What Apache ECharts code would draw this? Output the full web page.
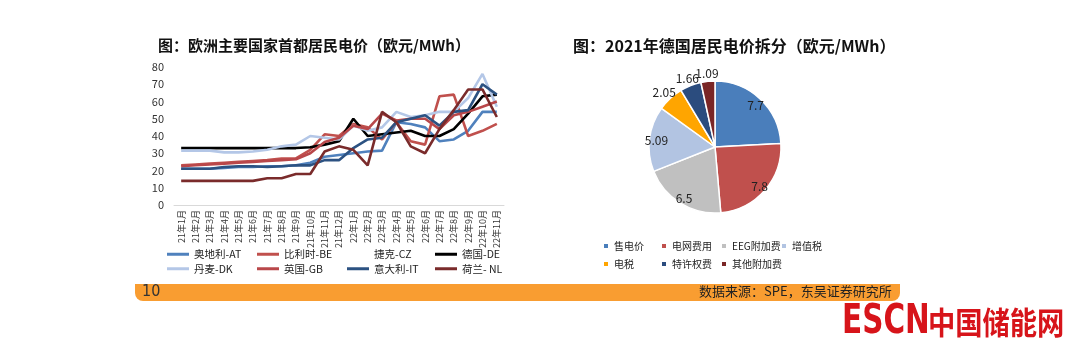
<!DOCTYPE html>
<html><head><meta charset="utf-8">
<script src="https://cdn.jsdelivr.net/npm/echarts@6/dist/echarts.min.js"></script>
<style>html,body{margin:0;padding:0;background:#fff}#c{width:1075px;height:343px}</style>
</head><body><div id="c"></div>
<script>
const categories = ['21年1月','21年2月','21年3月','21年4月','21年5月','21年6月','21年7月','21年8月','21年9月','21年10月','21年11月','21年12月','22年1月','22年2月','22年3月','22年4月','22年5月','22年6月','22年7月','22年8月','22年9月','22年10月','22年11月'];
const yTicks = [0,10,20,30,40,50,60,70,80];
const AT = [21,21,21,21.5,22,22,22.5,22.5,23,24.5,28,29,30,31,31.5,48,47,45,37,38,43,54,54];
const BE = [23,23.5,24,24.5,25,25.5,26,27,27,32,41,40,47,45,38,48,37,35,63,64,40,43,47];
const CZ = [];
const DE = [33,33,33,33,33,33,33,33,33,33.5,35,37,50,40,41,42,43,40,40,44,53,63,64];
const DK = [31.5,31.5,31.5,30.5,30.5,31,32,34,35,40,39,38,46,43,45,54,51,52,54,54,62,76,57];
const GB = [22.5,23,23.5,24,24.5,25,25.5,26,26.5,30,36.5,39,46,44,53,49,50,50,44,52,54,57,60];
const IT = [21,21,21,22,22.5,22.5,22,22.5,23,23,26,26,33,38,39,48,50,52,46,54,55,70,64];
const NL = [14,14,14,14,14,14,15.5,15.5,18,18,31,34,32,23,54,48,34,30,44,55,67,67,51];
const lineNames = ['奥地利-AT','比利时-BE','捷克-CZ','德国-DE','丹麦-DK','英国-GB','意大利-IT','荷兰- NL'];
const pieNames = ['售电价','电网费用','EEG附加费','增值税','电税','特许权费','其他附加费'];
const pieValues = [7.7,7.8,6.5,5.09,2.05,1.66,1.09];

const lineColors = ['#4f81bd','#c0504d','#ffffff','#000000','#b4c7e7','#b9474a','#2c5282','#7a2b2b'];
const pieColors = ['#4a7ebb','#c0504d','#c0c0c0','#b2c4e2','#ffa500','#2b4c7e','#7a2626'];
const CJK = '"Noto Sans CJK SC","Noto Sans",sans-serif';
const NARROW = '"Liberation Sans Narrow","DejaVu Sans Condensed",sans-serif';
const lineData = [AT,BE,CZ,DE,DK,GB,IT,NL];
const smallIdx = [4,5,6];

const chart = echarts.init(document.getElementById('c'), null, {renderer:'canvas'});
const lineSeries = lineNames.map((n,i)=>({
  name:n, type:'line', data:lineData[i], symbol:'none', showSymbol:false,
  lineStyle:{width:2.6, color:lineColors[i]}, itemStyle:{color:lineColors[i]},
  z: i===2?1:2
}));
const legendTxt = {fontSize:10.5, color:'#222', fontFamily:CJK};
function lineLegend(left, names){
  return {orient:'vertical', left:left, top:249, itemGap:4, itemWidth:22, itemHeight:3, icon:'rect',
    textStyle:legendTxt, data:names, selectedMode:false, padding:0};
}
function pieLegend(left, names){
  return {orient:'vertical', left:left, top:241, itemGap:8, itemWidth:6, itemHeight:6, icon:'rect',
    textStyle:Object.assign({}, legendTxt, {fontSize:10}), data:names, selectedMode:false, padding:0, itemTextGap:4};
}
const pieData = pieNames.map((n,i)=>({name:n, value:pieValues[i], itemStyle:{color:pieColors[i]}}));
const labelsBig = pieNames.map((n,i)=>({name:n, value:pieValues[i],
  label:{show: smallIdx.indexOf(i)<0}}));
const labelsSmall = pieNames.map((n,i)=>({name:n, value:pieValues[i],
  label:{show: smallIdx.indexOf(i)>=0}}));
const labelSeries = (r, d) => ({type:'pie', center:[715,148], radius:r, startAngle:90, clockwise:true,
  data:d, itemStyle:{color:'rgba(0,0,0,0)'}, silent:true, legendHoverLink:false,
  avoidLabelOverlap:false, labelLayout:{hideOverlap:false},
  label:{position:'inside', fontSize:12, color:'#222', fontFamily:CJK, formatter:'{c}'},
  labelLine:{show:false}, z:3});
chart.setOption({
  backgroundColor:'#fff',
  animation:false,
  title:[
    {text:'图：欧洲主要国家首都居民电价（欧元/MWh）', left:153, top:33,
     textStyle:{fontSize:15, fontWeight:'bold', color:'#111', fontFamily:CJK, borderColor:'#d5d5d5', borderWidth:1, borderType:'dashed', padding:[2,8,2,2]}},
    {text:'图：2021年德国居民电价拆分（欧元/MWh）', left:568, top:33,
     textStyle:{fontSize:16, fontWeight:'bold', color:'#111', fontFamily:CJK, padding:[2,2,2,2]}}
  ],
  grid:{left:174, right:571, top:67, bottom:138},
  xAxis:{type:'category', data:categories, boundaryGap:true,
    axisLine:{lineStyle:{color:'#d9d9d9', width:1}}, axisTick:{show:false},
    axisLabel:{rotate:90, fontSize:9, color:'#333', fontFamily:CJK, interval:0, margin:5}},
  yAxis:{type:'value', min:yTicks[0], max:yTicks[yTicks.length-1], interval:10,
    splitLine:{show:false}, axisLine:{show:false}, axisTick:{show:false},
    axisLabel:{fontSize:11, color:'#333', fontFamily:CJK, margin:10}},
  legend:[
    lineLegend(167,[lineNames[0],lineNames[4]]),
    lineLegend(257,[lineNames[1],lineNames[5]]),
    lineLegend(347,[lineNames[2],lineNames[6]]),
    lineLegend(435,[lineNames[3],lineNames[7]]),
    pieLegend(602,[pieNames[0],pieNames[4]]),
    pieLegend(660,[pieNames[1],pieNames[5]]),
    pieLegend(720,[pieNames[2],pieNames[6]]),
    pieLegend(780,[pieNames[3]])
  ],
  series: lineSeries.concat([
    {type:'pie', name:'pie', center:[715,147], radius:[0,66], startAngle:90, clockwise:true,
     data:pieData, label:{show:false}, labelLine:{show:false},
     itemStyle:{borderColor:'#fff', borderWidth:1.5}, silent:true},
    labelSeries([44,68], labelsBig),
    labelSeries([64,80], labelsSmall)
  ]),
  graphic:[
    {type:'rect', shape:{x:135, y:284, width:765, height:17, r:[0,0,8,8]}, style:{fill:'#f99d31'}},
    {type:'text', left:142, top:284, style:{text:'10', fontSize:16, fill:'#333', fontFamily:NARROW}},
    {type:'text', left:699, top:285, style:{text:'数据来源：SPE，东吴证券研究所', fontSize:13, fill:'#222', fontFamily:CJK}},
    {type:'text', x:842, y:322, scaleX:0.8,
     style:{text:'ESCN', x:0, y:0, fontSize:41, fontWeight:'bold', fill:'#d7141a', fontFamily:NARROW, verticalAlign:'middle', align:'left'}},
    {type:'text', x:928, y:322, scaleX:0.88,
     style:{text:'中国储能网', x:0, y:0, fontSize:31, fontWeight:'bold', fill:'#d7141a', fontFamily:CJK, verticalAlign:'middle', align:'left'}}
  ]
});
</script></body></html>
